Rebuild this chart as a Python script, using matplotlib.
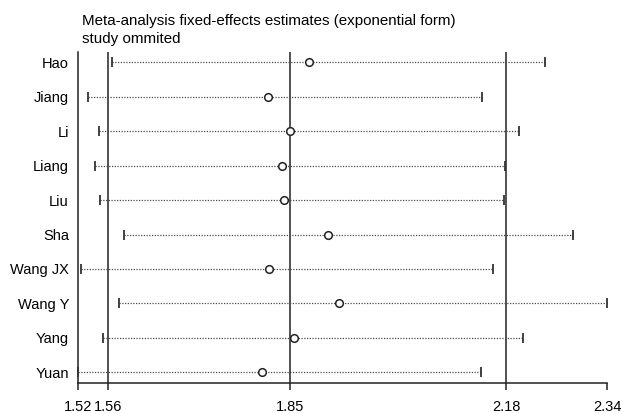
import matplotlib
matplotlib.use("Agg")
import matplotlib.pyplot as plt

plt.rcParams['font.family'] = ['Liberation Sans', 'DejaVu Sans']

studies = ["Hao", "Jiang", "Li", "Liang", "Liu", "Sha", "Wang JX", "Wang Y", "Yang", "Yuan"]
estimate = [1.878, 1.814, 1.848, 1.836, 1.840, 1.908, 1.816, 1.925, 1.855, 1.805]
lower = [1.572, 1.535, 1.553, 1.546, 1.554, 1.591, 1.525, 1.584, 1.559, 1.520]
upper = [2.244, 2.147, 2.204, 2.182, 2.180, 2.288, 2.163, 2.340, 2.210, 2.144]
tick_values = [1.52, 1.566, 1.849, 2.184, 2.34]
tick_labels = ["1.52", "1.56", "1.85", "2.18", "2.34"]
ref_lines = [1.566, 1.849, 2.184]
title_lines = ["Meta-analysis fixed-effects estimates (exponential form)", "study ommited"]

W, H = 622, 413
fig = plt.figure(figsize=(W / 100, H / 100), dpi=100)
ax = fig.add_axes([78 / W, 1 - 383 / H, (607 - 78) / W, (383 - 52) / H])

ypos = list(range(1, len(studies) + 1))

for xv in ref_lines:
    ax.axvline(xv, color='#222222', lw=1.1, zorder=2)

ax.hlines(ypos, lower, upper, colors='#4a4a4a', linestyles=(0, (1, 1.2)), lw=0.9, zorder=3)
ax.plot(lower, ypos, ls='none', marker='|', ms=7, mew=1.3, color='#333333', zorder=4, clip_on=False)
ax.plot(upper, ypos, ls='none', marker='|', ms=7, mew=1.3, color='#333333', zorder=4, clip_on=False)
ax.plot(estimate, ypos, ls='none', marker='o', ms=5.5, mew=1.1, mfc='white', mec='#222222', zorder=5)

ax.set_xlim(tick_values[0], tick_values[-1])
ax.set_ylim(10.31, 0.70)
ax.set_yticks(ypos)
ax.set_yticklabels(studies, fontsize=10.5)
ax.tick_params(axis='y', length=0, pad=6.5)
ax.set_xticks(tick_values)
ax.set_xticklabels(tick_labels, fontsize=10.5)
ax.tick_params(axis='x', length=5, width=1.1, pad=7.2, color='#222222')

for s in ['top', 'right']:
    ax.spines[s].set_visible(False)
for s in ['left', 'bottom']:
    ax.spines[s].set_linewidth(1.1)
    ax.spines[s].set_color('#222222')

fig.text(82 / W, 1 - 21 / H, title_lines[0], fontsize=10.9, ha='left', va='center')
fig.text(82 / W, 1 - 39 / H, title_lines[1], fontsize=10.9, ha='left', va='center')

fig.savefig("out.png", dpi=100, facecolor='white')
